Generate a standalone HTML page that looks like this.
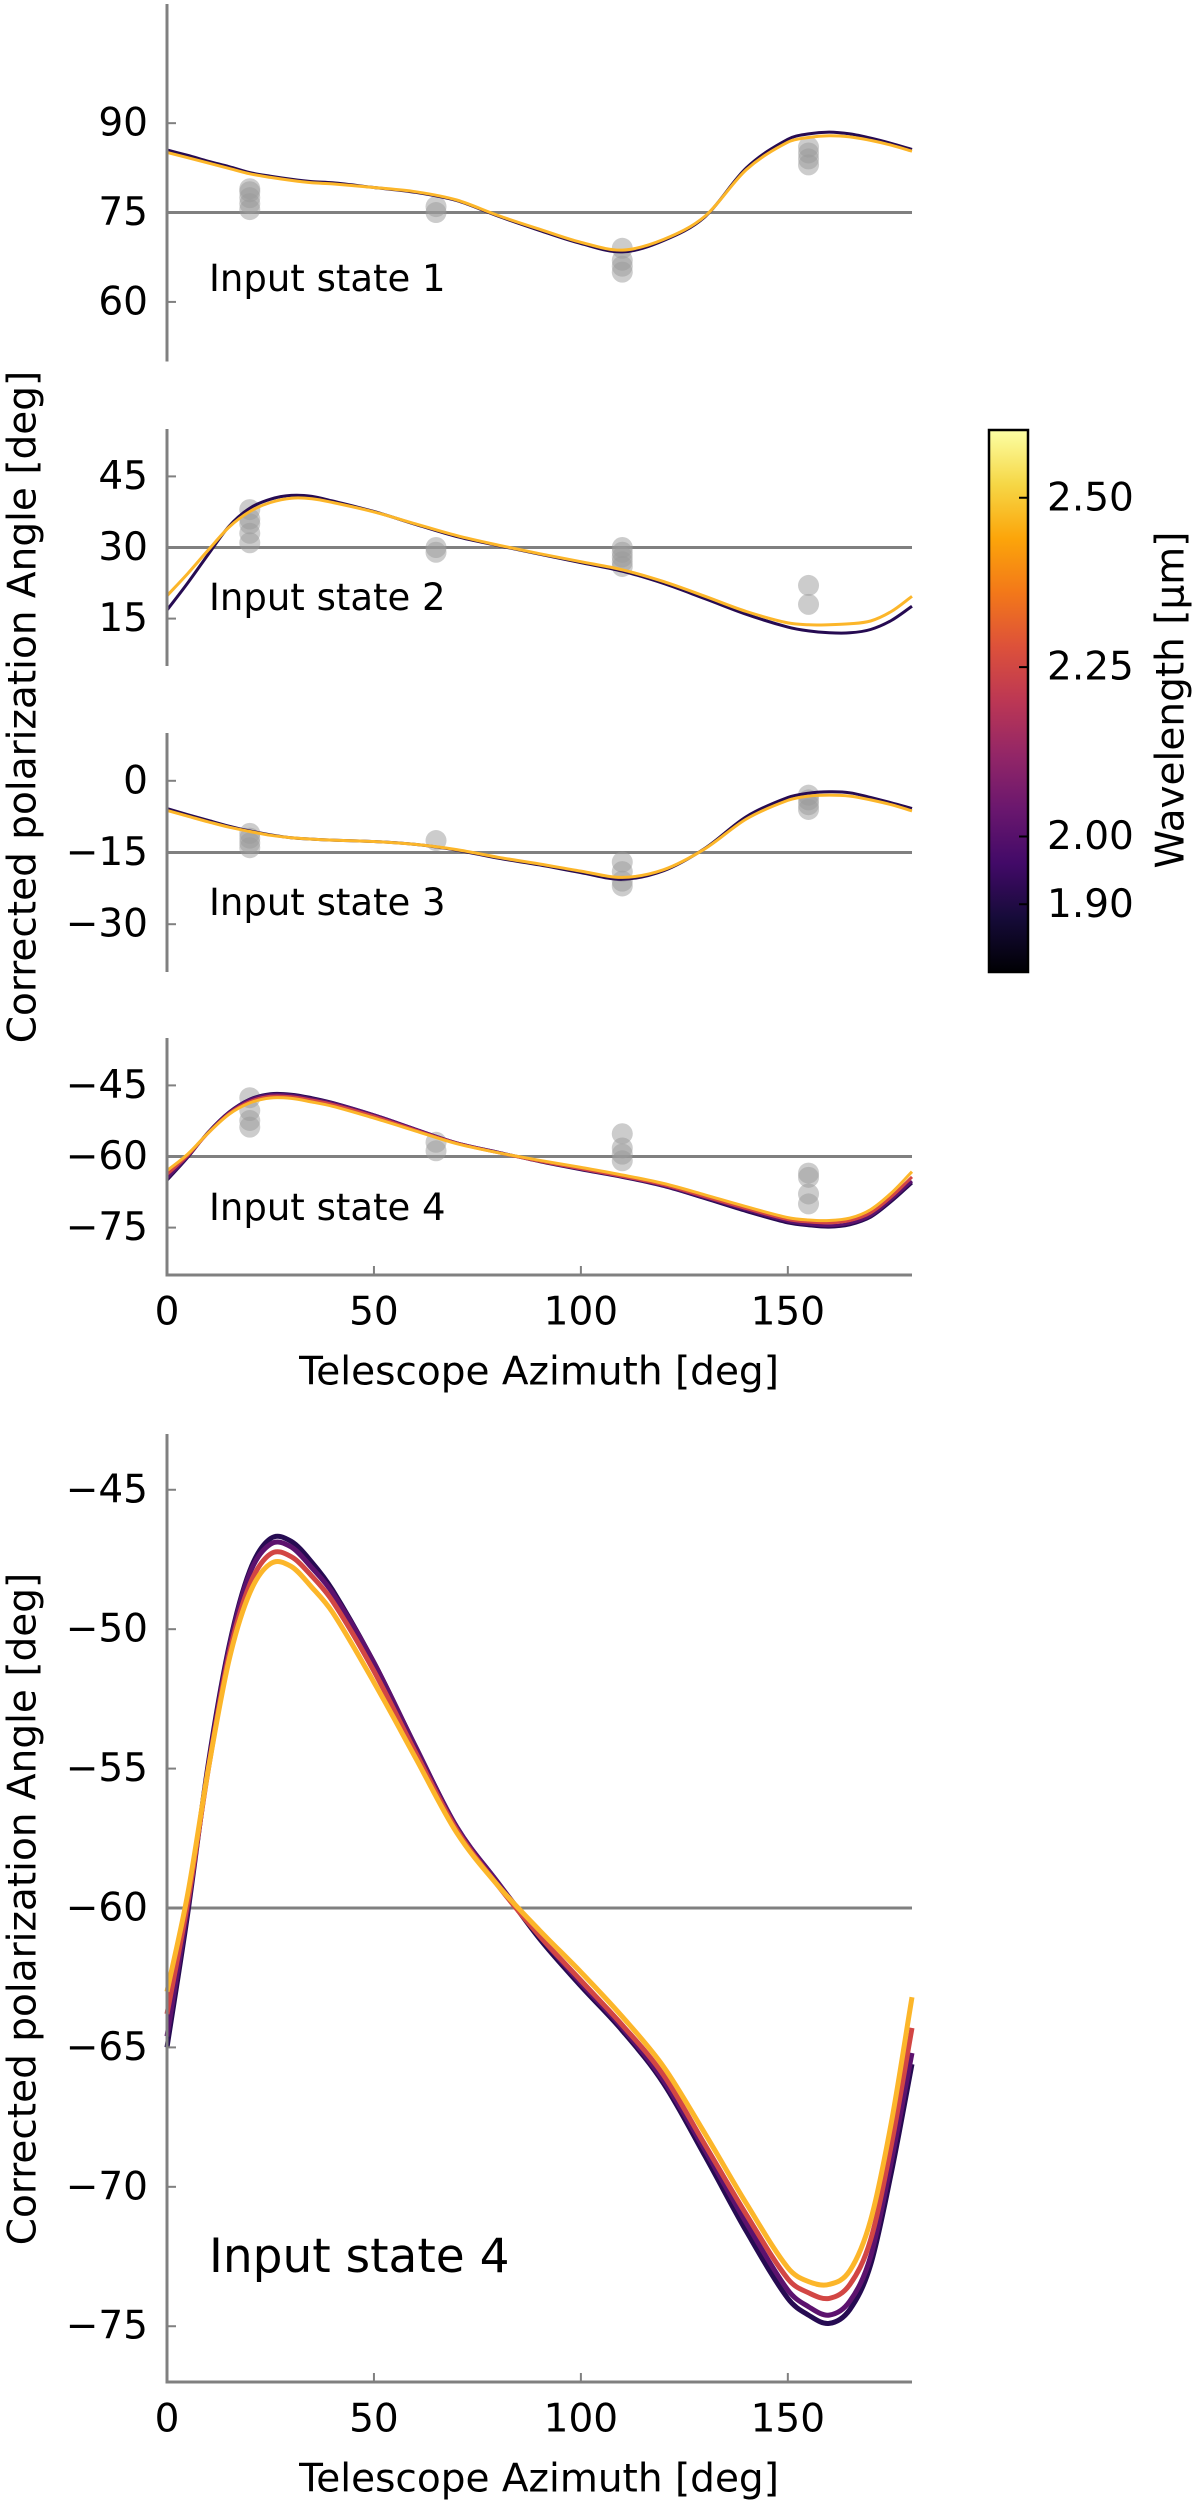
<!DOCTYPE html>
<html><head><meta charset="utf-8"><style>
html,body{margin:0;padding:0;background:#fff;}
svg{display:block;font-family:"DejaVu Sans","Liberation Sans",sans-serif;}
</style></head><body>
<svg id="fig" width="1200" height="2506" viewBox="0 0 1200 2506" xmlns="http://www.w3.org/2000/svg">
<defs>
<linearGradient id="inferno" x1="0" y1="1" x2="0" y2="0">
<stop offset="0" stop-color="#000004"/><stop offset="0.1" stop-color="#160b39"/><stop offset="0.2" stop-color="#420a68"/><stop offset="0.3" stop-color="#6a176e"/><stop offset="0.4" stop-color="#932667"/><stop offset="0.5" stop-color="#bc3754"/><stop offset="0.6" stop-color="#dd513a"/><stop offset="0.7" stop-color="#f37819"/><stop offset="0.8" stop-color="#fca50a"/><stop offset="0.9" stop-color="#f6d746"/><stop offset="1" stop-color="#fcffa4"/>
</linearGradient>
</defs>
</svg>
<script>
// ---- data ----
const azGrid = [0,5,10,15,20,25,30,35,40,50,60,70,80,90,100,110,120,130,140,150,155,160,165,170,175,180];
const s1Dark   = [85.5,84.6,83.6,82.7,81.7,81.1,80.6,80.2,80.0,79.2,78.4,77.0,74.4,72.0,69.8,68.4,70.3,74.3,82.5,87.3,88.2,88.5,88.2,87.5,86.6,85.6];
const s1Yellow = [85.1,84.2,83.3,82.4,81.5,80.9,80.4,80.0,79.8,79.2,78.5,77.1,74.5,72.2,70.0,68.7,70.5,74.4,82.2,86.8,87.6,87.9,87.7,87.1,86.3,85.3];
const s2Dark   = [16.8,22.5,28.6,34.5,38.3,40.2,41.0,40.8,39.8,37.6,34.9,32.3,30.4,28.6,26.8,25.0,22.4,19.2,15.9,13.2,12.4,12.0,12.0,12.7,14.6,17.6];
const s2Yellow = [19.8,24.5,29.5,34.3,37.6,39.5,40.4,40.3,39.5,37.5,35.0,32.5,30.5,28.7,27.0,25.3,22.8,19.7,16.5,14.1,13.7,13.7,13.9,14.5,16.5,19.7];
const s3Dark   = [-5.8,-7.1,-8.3,-9.5,-10.5,-11.3,-11.9,-12.2,-12.4,-12.7,-13.3,-14.5,-16.2,-17.6,-19.2,-20.6,-18.8,-14.1,-7.5,-3.5,-2.6,-2.3,-2.5,-3.5,-4.6,-5.8];
const s3Yellow = [-6.2,-7.4,-8.6,-9.7,-10.6,-11.4,-11.9,-12.2,-12.4,-12.7,-13.3,-14.4,-16.0,-17.4,-18.9,-20.2,-18.6,-14.2,-8.0,-4.1,-3.2,-3.0,-3.2,-4.0,-5.0,-6.3];
const s4Dark   = [-65.0,-60.2,-54.8,-50.6,-47.9,-46.75,-46.85,-47.6,-48.6,-51.2,-54.2,-57.1,-59.1,-61.1,-62.8,-64.4,-66.3,-68.9,-71.6,-74.0,-74.6,-74.9,-74.4,-72.8,-69.5,-65.6];
const s4Purple = [-64.6,-60.0,-54.9,-50.7,-48.0,-46.95,-47.05,-47.8,-48.7,-51.2,-54.2,-57.1,-59.1,-61.0,-62.7,-64.3,-66.2,-68.7,-71.3,-73.7,-74.3,-74.6,-74.1,-72.5,-69.1,-65.2];
const s4Red    = [-63.8,-59.8,-55.0,-50.9,-48.4,-47.3,-47.4,-48.1,-49.0,-51.5,-54.4,-57.2,-59.2,-61.0,-62.6,-64.2,-66.0,-68.5,-71.0,-73.3,-73.8,-74.0,-73.5,-71.9,-68.5,-64.3];
const s4Yellow = [-63.0,-59.5,-55.0,-51.1,-48.7,-47.65,-47.75,-48.5,-49.4,-51.9,-54.6,-57.3,-59.2,-60.8,-62.3,-63.9,-65.7,-68.1,-70.6,-72.9,-73.4,-73.5,-73.0,-71.2,-67.7,-63.2];
const ptAz = [20,65,110,155];
const pts1 = [[75.5,76.5,77.5,78.5,79],[75,76],[65,66,67,69],[83,84,85,86]];
const pts2 = [[31,33,35,36,38],[29,30],[26,27,28,29,30],[18,22]];
const pts3 = [[-11,-12,-13,-14],[-12.5],[-17,-19,-21,-22],[-3,-4,-5,-6]];
const pts4 = [[-47.6,-50.3,-52.4,-53.8],[-57,-58.8],[-55.2,-58.2,-59.5,-60.9],[-63.5,-64.4,-67.9,-70]];
const refAngles = [75,30,-15,-60];
const xTicks = [0,50,100,150];
const cbTicks = [1.90,2.00,2.25,2.50];
const cbTickLabels = ["1.90","2.00","2.25","2.50"];

const svg = document.getElementById('fig');
const NS = 'http://www.w3.org/2000/svg';
function mk(tag, attrs, parent){ const e=document.createElementNS(NS,tag); for(const k in attrs) e.setAttribute(k,attrs[k]); (parent||svg).appendChild(e); return e; }
const AX='#808080';
const X0=167, X1=912;
function xs(v){ return X0 + (v-0)/(180-0)*(X1-X0); }
// cubic Hermite in x (handles non-uniform spacing)
function smooth(px){
  const n=px.length, m=[];
  for(let i=0;i<n;i++){
    const a=px[Math.max(0,i-1)], b=px[Math.min(n-1,i+1)];
    m.push((b[1]-a[1])/(b[0]-a[0]));
  }
  let d='M'+px[0][0].toFixed(1)+','+px[0][1].toFixed(1);
  for(let i=0;i<n-1;i++){
    const p1=px[i],p2=px[i+1],dx=p2[0]-p1[0];
    const c1=[p1[0]+dx/3,p1[1]+m[i]*dx/3], c2=[p2[0]-dx/3,p2[1]-m[i+1]*dx/3];
    d+=' C'+c1[0].toFixed(1)+','+c1[1].toFixed(1)+' '+c2[0].toFixed(1)+','+c2[1].toFixed(1)+' '+p2[0].toFixed(1)+','+p2[1].toFixed(1);
  }
  return d; }

function panel(o){
  const g=mk('g',{});
  
  
  const ys=v=>o.bot-(v-o.ymin)/(o.ymax-o.ymin)*(o.bot-o.top);
  const rl=mk('line',{x1:X0,x2:X1,y1:ys(o.ref),y2:ys(o.ref),stroke:AX,'stroke-width':3},g);
  
  
  if(o.pts){ o.pts.forEach((arr,i)=>arr.forEach(v=>{
    const c=mk('circle',{cx:xs(ptAz[i]),cy:ys(v),r:10.5,fill:'#9a9a9a','fill-opacity':0.5},g);
    
    
  }));}
  o.series.forEach(s=>{
    const px=azGrid.map((a,i)=>[xs(a),ys(s.v[i])]);
    const p=mk('path',{d:smooth(px),fill:'none',stroke:s.c,'stroke-width':o.lw},g);
    
    
  });
  const sp=mk('line',{x1:X0,x2:X0,y1:o.top,y2:o.bot+(o.xaxis?1.5:0),stroke:AX,'stroke-width':3},g);
  
  
  o.ticks.forEach((t,i)=>{
    mk('line',{x1:X0,x2:X0+9,y1:ys(t),y2:ys(t),stroke:AX,'stroke-width':2},g);
    const tx=mk('text',{x:148,y:ys(t),'text-anchor':'end','dominant-baseline':'central','font-size':39,fill:'#000'},g);
    tx.textContent=(t<0?'\u2212'+Math.abs(t):String(t));
    
    
  });
  if(o.xaxis){
    const bx=mk('line',{x1:X0-1.5,x2:X1,y1:o.bot,y2:o.bot,stroke:AX,'stroke-width':3},g);
    
    
    xTicks.forEach(t=>{
      mk('line',{x1:xs(t),x2:xs(t),y1:o.bot,y2:o.bot-9,stroke:AX,'stroke-width':2},g);
      const tx=mk('text',{x:xs(t),y:o.bot+37,'text-anchor':'middle','dominant-baseline':'central','font-size':39},g);
      tx.textContent=String(t);
      
      
    });
    const xl=mk('text',{x:539,y:o.bot+97,'text-anchor':'middle','dominant-baseline':'central','font-size':39},g);
    xl.textContent='Telescope Azimuth [deg]';
    
    
  }
  const lab=mk('text',{x:209,y:o.labY,'font-size':o.labFs},g);
  lab.textContent=o.label;
  
  
}
const DK='#260b52', PU='#5c126e', RD='#d24644', YL='#fcb62a';
panel({name:'panel-input-state-1',top:4,bot:361.5,ymin:50,ymax:110,ticks:[60,75,90],ref:refAngles[0],pts:pts1,lw:3,
  series:[{n:'1.90',v:s1Dark,c:DK},{n:'2.45',v:s1Yellow,c:YL}],label:'Input state 1',labY:291,labFs:37});
panel({name:'panel-input-state-2',top:429,bot:666,ymin:5,ymax:55,ticks:[15,30,45],ref:refAngles[1],pts:pts2,lw:3,
  series:[{n:'1.90',v:s2Dark,c:DK},{n:'2.45',v:s2Yellow,c:YL}],label:'Input state 2',labY:610,labFs:37});
panel({name:'panel-input-state-3',top:733,bot:972,ymin:-40,ymax:10,ticks:[-30,-15,0],ref:refAngles[2],pts:pts3,lw:3,
  series:[{n:'1.90',v:s3Dark,c:DK},{n:'2.45',v:s3Yellow,c:YL}],label:'Input state 3',labY:915,labFs:37});
panel({name:'panel-input-state-4',top:1038,bot:1275,ymin:-85,ymax:-35,ticks:[-75,-60,-45],ref:refAngles[3],pts:pts4,lw:3,xaxis:true,
  series:[{n:'1.90',v:s4Dark,c:DK},{n:'2.00',v:s4Purple,c:PU},{n:'2.25',v:s4Red,c:RD},{n:'2.45',v:s4Yellow,c:YL}],label:'Input state 4',labY:1220,labFs:37});
panel({name:'panel-zoom-input-state-4',top:1434,bot:2382,ymin:-77,ymax:-43,ticks:[-75,-70,-65,-60,-55,-50,-45],ref:refAngles[3],lw:5,xaxis:true,
  series:[{n:'1.90',v:s4Dark,c:DK},{n:'2.00',v:s4Purple,c:PU},{n:'2.25',v:s4Red,c:RD},{n:'2.45',v:s4Yellow,c:YL}],label:'Input state 4',labY:2272,labFs:47});

[[707,'y-axis-title-top'],[1909,'y-axis-title-bottom']].forEach(a=>{
  const t=mk('text',{x:23,y:a[0],'text-anchor':'middle','dominant-baseline':'central','font-size':39,transform:'rotate(-90 23 '+a[0]+')'});
  t.textContent='Corrected polarization Angle [deg]';
  
  
});

const CB={x:989,w:39,top:430,bot:972,min:1.8,max:2.6};
const cbs=v=>CB.bot-(v-CB.min)/(CB.max-CB.min)*(CB.bot-CB.top);
const cb=mk('rect',{x:CB.x,y:CB.top,width:CB.w,height:CB.bot-CB.top,fill:'url(#inferno)',stroke:'#000','stroke-width':2.5});


cbTicks.forEach((t,i)=>{
  mk('line',{x1:CB.x+CB.w,x2:CB.x+CB.w-9,y1:cbs(t),y2:cbs(t),stroke:'#000','stroke-width':2});
  const tx=mk('text',{x:1047,y:cbs(t),'dominant-baseline':'central','font-size':39});
  tx.textContent=cbTickLabels[i];
  
  
});
const cl=mk('text',{x:1171,y:700,'text-anchor':'middle','dominant-baseline':'central','font-size':39,transform:'rotate(-90 1171 700)'});
cl.textContent='Wavelength [\u03bcm]';


</script>
</body></html>
